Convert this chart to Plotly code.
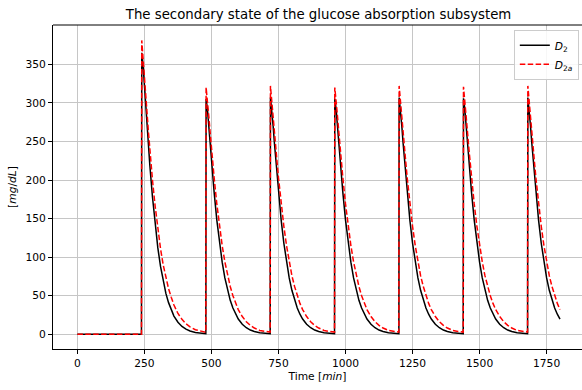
import plotly.graph_objects as go

# Meal times [min] and minutes after each meal at which the curves are sampled
meal_times = [240, 480, 720, 960, 1200, 1440, 1680]
t_end = 1800
offsets = [0, 5, 10, 15, 20, 25, 30, 40, 50, 60, 70, 80, 90, 100, 110, 120,
           135, 150, 165, 180, 200, 220, 239]

# Peak value reached at each meal [mg/dL]
d2_peaks = [365, 305, 307, 305, 307, 306, 307]
d2a_peaks = [381, 320, 322, 320, 322, 321, 322]

# Decay after the peak (offsets[1:]) for the first meal and for the later meals
d2_decay_first = [349, 323, 296, 269, 244, 220, 178, 142, 112, 88, 68, 53, 41, 31,
                  23.6, 15.6, 10.2, 6.6, 4.2, 2.3, 1.2, 0.7]
d2_decay = [292, 270, 247, 225, 204, 184, 148, 118, 93.5, 73, 57, 44, 34, 26,
            19.7, 13, 8.5, 5.5, 3.5, 1.9, 1.1, 0.7]
d2a_decay_first = [360, 335, 310, 286, 262, 240, 200, 166, 136, 111, 90, 73, 59, 48,
                   38, 27, 19.3, 13.6, 9.6, 5.9, 3.7, 2.6]
d2a_decay = [304, 283, 262, 241, 222, 203, 169, 140, 115, 94, 76, 62, 50, 40,
             32, 23, 16.3, 11.5, 8.1, 5.0, 3.6, 2.8]

# Fasting level before the first meal
baseline = 0.0


def build(peaks, decay_first, decay):
    t = [0, meal_times[0] - 1]
    y = [baseline, baseline]
    for k, m in enumerate(meal_times):
        vals = [peaks[k]] + (decay_first if k == 0 else decay)
        for off, v in zip(offsets, vals):
            if m + off > t_end:
                break
            t.append(m + off)
            y.append(v)
    return t, y


t2, y2 = build(d2_peaks, d2_decay_first, d2_decay)
t2a, y2a = build(d2a_peaks, d2a_decay_first, d2a_decay)

font = "DejaVu Sans, Arial, sans-serif"
fs = 10.7

fig = go.Figure()
fig.add_trace(go.Scatter(x=t2, y=y2, mode="lines", name="<i>D</i><sub>2</sub>",
                         line=dict(color="black", width=1.5)))
fig.add_trace(go.Scatter(x=t2a, y=y2a, mode="lines", name="<i>D</i><sub>2<i>a</i></sub>",
                         line=dict(color="red", width=1.5, dash="5.5px,2.4px")))

axis_common = dict(
    showgrid=True, gridcolor="#c6c6c6", gridwidth=1,
    showline=True, linecolor="black", linewidth=1,
    ticks="outside", ticklen=4, tickwidth=1, tickcolor="black",
    zeroline=False, tickfont=dict(family=font, size=fs, color="black"),
)

fig.update_xaxes(range=[-91, 1882], tickvals=[0, 250, 500, 750, 1000, 1250, 1500, 1750],
                 title=dict(text="Time [<i>min</i>]", font=dict(family=font, size=fs, color="black"),
                            standoff=3),
                 **axis_common)
fig.update_yaxes(range=[-19.1, 401], tickvals=[0, 50, 100, 150, 200, 250, 300, 350],
                 title=dict(text="[<i>mg</i>/<i>dL</i>]", font=dict(family=font, size=fs, color="black"),
                            standoff=6),
                 **axis_common)

# top frame line of the axes box
fig.add_shape(type="line", xref="paper", yref="paper", x0=0, x1=1, y0=1, y1=1,
              line=dict(color="black", width=1))

fig.update_layout(
    width=582, height=390,
    margin=dict(l=53, r=0, t=25, b=41),
    paper_bgcolor="white", plot_bgcolor="white",
    title=dict(text="The secondary state of the glucose absorption subsystem",
               font=dict(family=font, size=13.3, color="black"),
               x=0.502, xref="paper", xanchor="center", y=1 - 14 / 390, yanchor="middle"),
    legend=dict(x=0.994, y=0.985, xanchor="right", yanchor="top",
                bgcolor="rgba(255,255,255,0.85)", bordercolor="#cccccc", borderwidth=1,
                font=dict(family=font, size=fs, color="black"),
                tracegroupgap=0, itemwidth=30),
    showlegend=True,
)

fig.write_html("out.html")
